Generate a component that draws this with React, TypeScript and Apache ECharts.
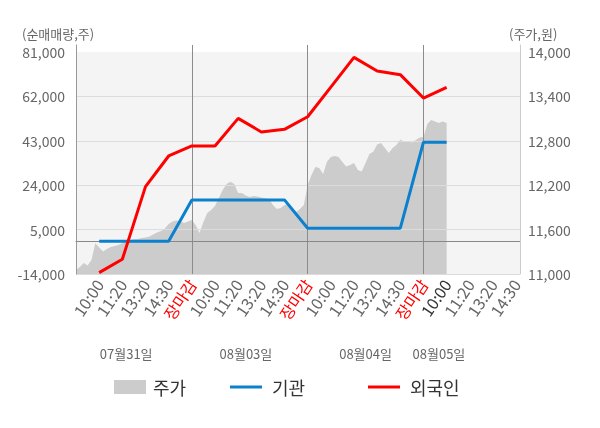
import { useEffect, useRef } from "react";
import * as echarts from "echarts";

// ---- data ----
const tickLabels = [
  "", "10:00", "11:20", "13:20", "14:30", "장마감",
  "10:00", "11:20", "13:20", "14:30", "장마감",
  "10:00", "11:20", "13:20", "14:30", "장마감",
  "10:00", "11:20", "13:20", "14:30",
];
const closeLabel = "장마감";
const latestLabelIndex = 16;

const dayLabels = ["07월31일", "08월03일", "08월04일", "08월05일"];

// 외국인 / 기관 net buying (shares) at label points 1..16
const foreignNet = [
  -13400, -7700, 23400, 36500, 40800, 40800, 52600, 46800, 47900, 53300,
  66000, 78700, 72900, 71300, 61300, 65900,
];
const instNet = [
  0, 0, 0, 0, 17700, 17700, 17700, 17700, 17700, 5600, 5600, 5600, 5600, 5600,
  42400, 42400,
];

// 주가 (won), fine-grained intraday samples
const price = [
  11054, 11095, 11149, 11115, 11189, 11415, 11358, 11304, 11338, 11365,
  11378, 11392, 11419, 11446, 11459, 11469, 11473, 11486, 11493, 11507,
  11534, 11561, 11581, 11615, 11676, 11709, 11723, 11716, 11689, 11709,
  11730, 11662, 11554, 11703, 11824, 11865, 11919, 12027, 12135, 12216,
  12247, 12216, 12095, 12095, 12061, 12041, 12054, 12047, 12034, 12023,
  12014, 11932, 11878, 11892, 11932, 11946, 11892, 11838, 11878, 11932,
  12203, 12338, 12446, 12432, 12351, 12518, 12581, 12595, 12581, 12514,
  12453, 12473, 12500, 12405, 12385, 12500, 12622, 12653, 12750, 12770,
  12703, 12635, 12703, 12743, 12818, 12784, 12791, 12777, 12811, 12845,
  12851, 13027, 13081, 13061, 13041, 13061, 13041,
];

// ---- layout ----
const SUB = 6; // fine steps between two time labels
const N = (tickLabels.length - 1) * SUB + 2;
const dayLabelAt = [13, 44, 75, 94];
const FONT = "Noto Sans CJK KR";
const LINE_ICON = "path://M0,0H32V3H0Z";

const cats = Array.from({ length: N }, (_, i) => "c" + i);
const dayCats = Array.from({ length: N }, (_, i) => "d" + i);

const isLabelIdx = (i: number) =>
  i % SUB === 0 && i / SUB < tickLabels.length && tickLabels[i / SUB] !== "";
const isDayBoundary = (i: number) =>
  i > 0 && i % SUB === 0 && tickLabels[i / SUB] === closeLabel;

const fmt = (v: number) => v.toLocaleString("en-US");

const legendBase = {
  top: 378,
  itemWidth: 32,
  itemHeight: 14,
  padding: 0,
  selectedMode: false,
  itemStyle: { borderWidth: 0 },
};

const option: any = {
  animation: false,
  textStyle: { fontFamily: FONT },
  title: [
    {
      text: "(순매매량,주)",
      left: 22,
      top: 27,
      padding: 0,
      textStyle: { fontSize: 13, color: "#666", fontWeight: "normal", fontFamily: FONT },
    },
    {
      text: "(주가,원)",
      left: 509,
      top: 27,
      padding: 0,
      textStyle: { fontSize: 13, color: "#666", fontWeight: "normal", fontFamily: FONT },
    },
  ],
  legend: [
    {
      ...legendBase,
      data: [{ name: "주가", icon: "rect" }],
      left: 114,
      textStyle: { fontSize: 18, color: "#333", padding: [0, 0, 0, 2], fontFamily: FONT },
    },
    {
      ...legendBase,
      data: [{ name: "기관", icon: LINE_ICON }],
      left: 230,
      textStyle: { fontSize: 18, color: "#333", padding: [0, 0, 0, 5], fontFamily: FONT },
    },
    {
      ...legendBase,
      data: [{ name: "외국인", icon: LINE_ICON }],
      left: 368,
      textStyle: { fontSize: 18, color: "#333", padding: [0, 0, 0, 5], fontFamily: FONT },
    },
  ],
  grid: [
    {
      left: 76,
      right: 80,
      top: 52,
      bottom: 154,
      show: true,
      backgroundColor: "#f4f4f4",
      borderWidth: 0,
      containLabel: false,
      outerBoundsMode: "none",
    },
    {
      left: 76,
      right: 80,
      top: 45,
      bottom: 154,
      show: false,
      containLabel: false,
      outerBoundsMode: "none",
    },
  ],
  xAxis: [
    {
      type: "category",
      gridIndex: 0,
      data: cats,
      boundaryGap: false,
      axisLine: { show: true, lineStyle: { color: "#999", width: 1 } },
      axisTick: {
        show: true,
        length: 5,
        interval: (i: number) => i === 0 || isDayBoundary(i) || i === N - 1,
        lineStyle: { color: "#999" },
      },
      axisLabel: {
        interval: (i: number) => isLabelIdx(i),
        rotate: 56,
        margin: 7,
        fontSize: 16,
        color: "#666",
        fontFamily: FONT,
        formatter: (_v: string, i: number) => {
          const li = i / SUB;
          const t = tickLabels[li] ?? "";
          if (t === closeLabel) return "{r|" + t + "}";
          if (li === latestLabelIndex) return "{d|" + t + "}";
          return t;
        },
        rich: {
          r: { color: "#ff0000", fontSize: 16, fontFamily: FONT },
          d: { color: "#333", fontSize: 16, fontFamily: FONT },
        },
      },
      splitLine: { show: false },
    },
    {
      type: "category",
      gridIndex: 0,
      position: "bottom",
      offset: 65,
      data: dayCats,
      boundaryGap: false,
      axisLine: { show: false },
      axisTick: { show: false },
      axisLabel: {
        interval: 0,
        fontSize: 13,
        color: "#666",
        fontFamily: FONT,
        formatter: (_v: string, i: number) => {
          const k = dayLabelAt.indexOf(i);
          return k >= 0 ? dayLabels[k] : "";
        },
      },
      splitLine: { show: false },
    },
    {
      type: "category",
      gridIndex: 1,
      data: cats,
      boundaryGap: false,
      axisLine: { show: false },
      axisTick: { show: false },
      axisLabel: { show: false },
      splitLine: {
        show: true,
        interval: (i: number) => isDayBoundary(i),
        lineStyle: { color: "#8c8c8c", width: 1 },
      },
      z: 3,
    },
  ],
  yAxis: [
    {
      type: "value",
      gridIndex: 0,
      position: "left",
      min: -14000,
      max: 81000,
      interval: 19000,
      axisLine: { show: false },
      axisTick: { show: false },
      axisLabel: { fontSize: 14, color: "#666", margin: 11, formatter: fmt, fontFamily: FONT },
      splitLine: { show: true, showMaxLine: false, lineStyle: { color: "#dcdcdc", width: 1 } },
      z: 3,
    },
    {
      type: "value",
      gridIndex: 0,
      position: "right",
      min: 11000,
      max: 14000,
      interval: 600,
      axisLine: { show: false },
      axisTick: { show: false },
      axisLabel: { fontSize: 14, color: "#666", margin: 8, formatter: fmt, fontFamily: FONT },
      splitLine: { show: false },
    },
    {
      type: "value",
      gridIndex: 1,
      position: "left",
      min: 0,
      max: 1,
      axisLine: { show: true, lineStyle: { color: "#999" } },
      axisTick: { show: false },
      axisLabel: { show: false },
      splitLine: { show: false },
      z: 3,
    },
    {
      type: "value",
      gridIndex: 1,
      position: "right",
      min: 0,
      max: 1,
      axisLine: { show: true, lineStyle: { color: "#ccc" } },
      axisTick: { show: false },
      axisLabel: { show: false },
      splitLine: { show: false },
      z: 3,
    },
  ],
  series: [
    {
      name: "주가",
      type: "line",
      xAxisIndex: 0,
      yAxisIndex: 1,
      data: price,
      symbol: "none",
      color: "#cccccc",
      itemStyle: { color: "#cccccc" },
      lineStyle: { width: 0, color: "#cccccc" },
      areaStyle: { color: "#cccccc", opacity: 1, origin: "start" },
      silent: true,
      z: 1,
    },
    {
      name: "기관",
      type: "line",
      xAxisIndex: 0,
      yAxisIndex: 0,
      data: instNet.map((v, k) => [(k + 1) * SUB, v]),
      symbol: "none",
      color: "#0b80cd",
      itemStyle: { color: "#0b80cd" },
      lineStyle: { width: 3, color: "#0b80cd" },
      silent: true,
      z: 6,
      markLine: {
        silent: true,
        symbol: "none",
        label: { show: false },
        lineStyle: { color: "#888", width: 1, type: "solid" },
        data: [{ yAxis: 0 }],
      },
    },
    {
      name: "외국인",
      type: "line",
      xAxisIndex: 0,
      yAxisIndex: 0,
      data: foreignNet.map((v, k) => [(k + 1) * SUB, v]),
      symbol: "none",
      color: "#ff0000",
      itemStyle: { color: "#ff0000" },
      lineStyle: { width: 3, color: "#ff0000" },
      silent: true,
      z: 7,
    },
  ],
};

export default function App() {
  const ref = useRef<HTMLDivElement>(null);
  useEffect(() => {
    document.body.style.margin = "0";
    const chart = echarts.init(ref.current!, undefined, { renderer: "svg" });
    chart.setOption(option);
    return () => chart.dispose();
  }, []);
  return (
    <div
      ref={ref}
      style={{ position: "fixed", left: 0, top: 0, width: 600, height: 428 }}
    />
  );
}
